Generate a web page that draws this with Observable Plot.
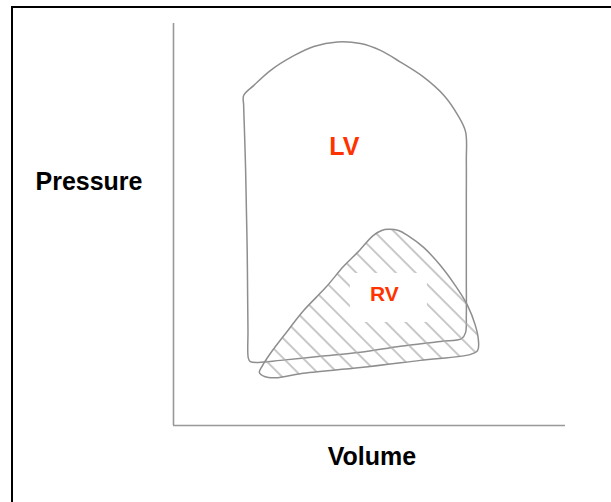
<!DOCTYPE html>
<html>
<head>
<meta charset="utf-8">
<script src="https://cdn.jsdelivr.net/npm/d3@7"></script>
<script src="https://cdn.jsdelivr.net/npm/@observablehq/plot@0.6"></script>
<style>
  html, body { margin: 0; padding: 0; background: #fff; overflow: hidden; width: 611px; height: 502px; }
  #wrap { position: relative; width: 611px; height: 502px; }
  #wrap svg { position: absolute; left: 0; top: 0; }
  #border { position: absolute; left: 11px; top: 6px; width: 700px; height: 700px; border: 2px solid #000; pointer-events: none; }
</style>
</head>
<body>
<div id="wrap"><div id="border"></div></div>
<script>
// Left ventricle pressure–volume loop (sketch, arbitrary units)
const lvVolume   = [19.1, 19.0, 18.9, 18.8, 18.6, 18.4, 18.1, 17.9, 17.9, 20.5, 24.7, 30.7, 35.8, 41.8, 47.7, 52.8, 57.9, 63.9, 69.0, 72.4, 74.5, 74.7, 74.7, 74.7, 74.7, 74.7, 74.5, 73.5, 68.1, 57.9, 47.7, 37.5, 27.3, 21.7, 19.6];
const lvPressure = [16.7, 23.6, 33.6, 43.5, 53.5, 63.4, 73.4, 79.6, 82.1, 84.6, 88.3, 92.0, 94.3, 95.4, 95.0, 93.3, 90.4, 86.6, 82.1, 77.4, 73.1, 65.9, 56.0, 46.0, 36.1, 27.4, 23.1, 21.6, 20.9, 19.7, 18.2, 17.2, 16.2, 15.7, 15.9];
// Right ventricle pressure–volume loop
const rvVolume   = [54.8, 57.4, 59.7, 63.8, 68.1, 71.9, 75.0, 77.0, 77.8, 77.6, 75.8, 63.0, 47.7, 32.4, 26.5, 23.2, 21.9, 22.7, 24.7, 28.6, 33.2, 38.8, 43.4, 46.9, 51.0, 53.1];
const rvPressure = [48.8, 48.5, 47.3, 44.3, 39.8, 34.8, 29.9, 24.9, 21.1, 18.7, 17.7, 16.2, 14.4, 12.9, 11.9, 12.2, 13.2, 14.9, 17.9, 22.9, 28.6, 34.3, 39.6, 43.0, 47.3, 48.5];
// Loop labels
const loopLabels    = ["LV", "RV"];
const labelVolume   = [43.6, 53.8];
const labelPressure = [69.4, 32.6];
const axisTitles = ["Volume", "Pressure"];

const lv = lvVolume.map((v, i) => ({volume: v, pressure: lvPressure[i]}));
const rv = rvVolume.map((v, i) => ({volume: v, pressure: rvPressure[i]}));
const labels = loopLabels.map((t, i) => ({text: t, volume: labelVolume[i], pressure: labelPressure[i]}));

const font = "'Liberation Sans', Arial, Helvetica, sans-serif";
const lineColor = "#8e8e8e";

const chart = Plot.plot({
  width: 611,
  height: 502,
  marginLeft: 173,
  marginRight: 46,
  marginTop: 23,
  marginBottom: 77,
  x: {domain: [0, 100], axis: null},
  y: {domain: [0, 100], axis: null},
  style: {background: "transparent", fontFamily: font},
  marks: [
    Plot.ruleX([0], {stroke: "#999", strokeWidth: 1.6}),
    Plot.ruleY([0], {stroke: "#999", strokeWidth: 1.6}),
    Plot.line(lv, {x: "volume", y: "pressure", curve: "catmull-rom-closed", stroke: lineColor, strokeWidth: 1.5}),
    Plot.line(rv, {x: "volume", y: "pressure", curve: "catmull-rom-closed", fill: "url(#hatch)", stroke: lineColor, strokeWidth: 1.5}),
    Plot.rect(labels.filter(d => d.text === "RV"), {x1: "volume", x2: "volume", y1: "pressure", y2: "pressure", fill: "white", insetLeft: -34, insetRight: -43, insetTop: -21, insetBottom: -28}),
    Plot.text(labels, {x: "volume", y: "pressure", text: "text", fill: "#ff3300", fontWeight: "bold", fontSize: d => d.text === "LV" ? 25 : 21, fontFamily: font}),
    Plot.text([axisTitles[1]], {frameAnchor: "left", text: d => d, textAnchor: "middle", dx: -84.5, dy: -43, fontSize: 25, fontWeight: "bold", fill: "#000", fontFamily: font}),
    Plot.text([axisTitles[0]], {frameAnchor: "bottom", text: d => d, textAnchor: "middle", dx: 2.5, dy: 39, fontSize: 25, fontWeight: "bold", fill: "#000", fontFamily: font})
  ]
});

// hatch pattern for the RV loop
const defs = document.createElementNS("http://www.w3.org/2000/svg", "defs");
defs.innerHTML = `<pattern id="hatch" patternUnits="userSpaceOnUse" width="14" height="14" patternTransform="rotate(-45)">
  <line x1="3" y1="0" x2="3" y2="14" stroke="#aaa" stroke-width="1.3"/></pattern>`;
chart.insertBefore(defs, chart.firstChild);

document.getElementById("wrap").insertBefore(chart, document.getElementById("border"));
</script>
</body>
</html>
